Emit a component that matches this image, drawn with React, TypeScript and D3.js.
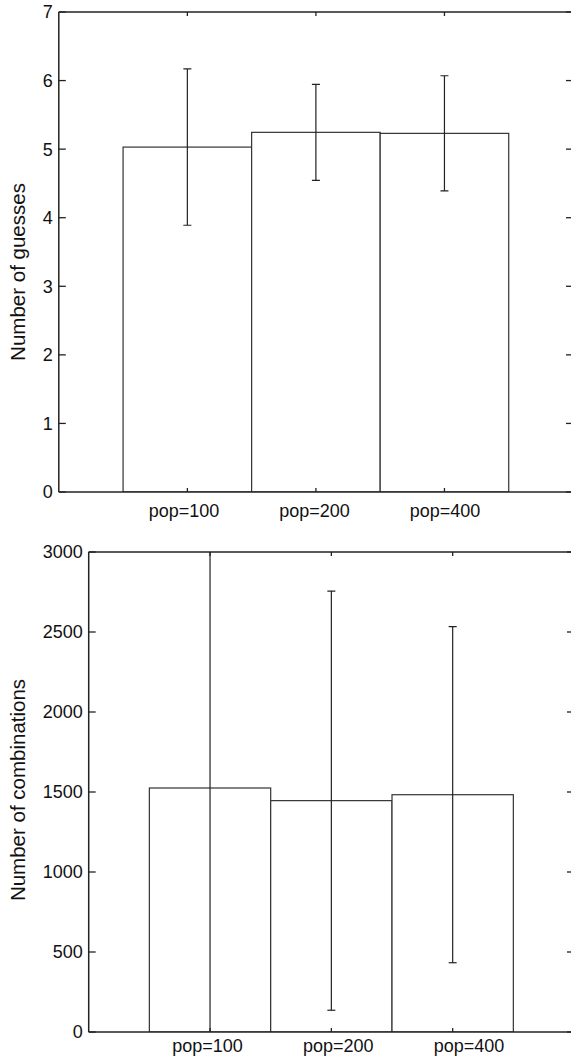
import React from "react";
import * as d3 from "d3";

const categories = ["pop=100", "pop=200", "pop=400"];
const guessMean = [5.03, 5.245, 5.23];
const guessErr = [1.14, 0.7, 0.84];
const guessTicks = [0, 1, 2, 3, 4, 5, 6, 7];
const combMean = [1525, 1446, 1483];
const combErr = [1600, 1310, 1050];
const combTicks = [0, 500, 1000, 1500, 2000, 2500, 3000];

const W = 571;
const H = 1056;
const FONT = "'Liberation Sans', Arial, Helvetica, sans-serif";

type PanelProps = {
  id: string;
  means: number[];
  errs: number[];
  ticks: number[];
  yMax: number;
  left: number;
  right: number;
  top: number;
  bottom: number;
  ylabel: string;
  labelRange: [number, number];
  labelDy: number;
  ylabelX: number;
  ylabelY: number;
};

function Panel(p: PanelProps) {
  const x = d3.scaleLinear().domain([0, 4]).range([p.left, p.right]);
  const y = d3.scaleLinear().domain([0, p.yMax]).range([p.bottom, p.top]);
  const lx = d3.scaleLinear().domain([0, 2]).range(p.labelRange);
  const stroke = "#222";
  const capW = 4;
  const clipId = `clip-${p.id}`;
  return (
    <g>
      <defs>
        <clipPath id={clipId}>
          <rect x={p.left} y={p.top} width={p.right - p.left} height={p.bottom - p.top} />
        </clipPath>
      </defs>
      <g clipPath={`url(#${clipId})`}>
        {p.means.map((m, i) => (
          <rect
            key={"b" + i}
            x={x(i + 0.5)}
            y={y(m)}
            width={x(i + 1.5) - x(i + 0.5)}
            height={y(0) - y(m)}
            fill="white"
            stroke="#333"
            strokeWidth={1.2}
          />
        ))}
        {p.means.map((m, i) => {
          const cx = x(i + 1);
          const hi = y(m + p.errs[i]);
          const lo = y(m - p.errs[i]);
          return (
            <g key={"e" + i} stroke={stroke} strokeWidth={1.2}>
              <line x1={cx} x2={cx} y1={hi} y2={lo} />
              <line x1={cx - capW} x2={cx + capW} y1={hi} y2={hi} />
              <line x1={cx - capW} x2={cx + capW} y1={lo} y2={lo} />
            </g>
          );
        })}
      </g>
      <g stroke={stroke} strokeWidth={1.5} fill="none">
        <line x1={p.left} x2={p.left} y1={p.top} y2={p.bottom} />
        <line x1={p.left} x2={p.right} y1={p.bottom} y2={p.bottom} />
        <line x1={p.left} x2={p.right} y1={p.top} y2={p.top} />
        <line x1={p.right} x2={p.right} y1={p.top} y2={p.bottom} />
      </g>
      {p.ticks.map((t) => (
        <g key={"t" + t}>
          <line x1={p.left} x2={p.left + 7} y1={y(t)} y2={y(t)} stroke={stroke} strokeWidth={1.3} />
          <line x1={p.right - 7} x2={p.right} y1={y(t)} y2={y(t)} stroke={stroke} strokeWidth={1.3} />
          <text
            x={p.left - 6}
            y={y(t)}
            dy="0.36em"
            textAnchor="end"
            fontFamily={FONT}
            fontSize={18}
            fill="#111"
          >
            {t}
          </text>
        </g>
      ))}
      {categories.map((c, i) => (
        <g key={"x" + c}>
          <line x1={x(i + 1)} x2={x(i + 1)} y1={p.bottom} y2={p.bottom - 4} stroke={stroke} strokeWidth={1.3} />
          <line x1={x(i + 1)} x2={x(i + 1)} y1={p.top} y2={p.top + 4} stroke={stroke} strokeWidth={1.3} />
          <text
            x={lx(i)}
            y={p.bottom}
            dy={p.labelDy}
            textAnchor="middle"
            fontFamily={FONT}
            fontSize={18}
            fill="#111"
          >
            {c}
          </text>
        </g>
      ))}
      <text
        transform={`translate(${p.ylabelX},${p.ylabelY}) rotate(-90)`}
        textAnchor="middle"
        fontFamily={FONT}
        fontSize={20.5}
        fill="#111"
      >
        {p.ylabel}
      </text>
    </g>
  );
}

export default function App() {
  return (
    <svg
      width={W}
      height={H}
      viewBox={`0 0 ${W} ${H}`}
      style={{ position: "absolute", left: 0, top: 0, background: "white" }}
    >
      <rect width={W} height={H} fill="white" />
      <Panel
        id="top"
        means={guessMean}
        errs={guessErr}
        ticks={guessTicks}
        yMax={7}
        left={58.8}
        right={573}
        top={12}
        bottom={492}
        ylabel="Number of guesses"
        labelRange={[184, 445]}
        labelDy={25}
        ylabelX={25}
        ylabelY={272}
      />
      <Panel
        id="bot"
        means={combMean}
        errs={combErr}
        ticks={combTicks}
        yMax={3000}
        left={88.7}
        right={574}
        top={552}
        bottom={1032}
        ylabel="Number of combinations"
        labelRange={[207.5, 469]}
        labelDy={19.5}
        ylabelX={25}
        ylabelY={790}
      />
    </svg>
  );
}
